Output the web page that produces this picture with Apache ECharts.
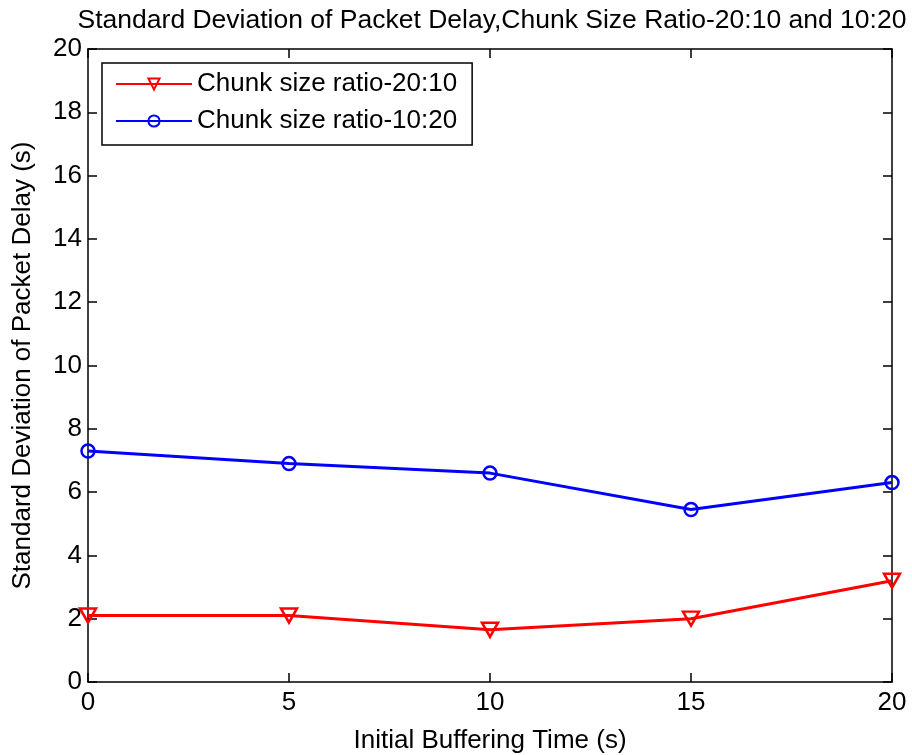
<!DOCTYPE html>
<html><head><meta charset="utf-8">
<script src="https://cdn.jsdelivr.net/npm/echarts@6/dist/echarts.min.js"></script>
<style>html,body{margin:0;padding:0;background:#fff}#c{width:912px;height:755px}</style>
</head><body><div id="c"></div>
<script>
const categories = [0, 5, 10, 15, 20];
const ratio2010 = [2.1, 2.1, 1.65, 2.0, 3.2];
const ratio1020 = [7.3, 6.9, 6.6, 5.45, 6.3];
const seriesNames = ['Chunk size ratio-20:10', 'Chunk size ratio-10:20'];
const xTicks = [0, 5, 10, 15, 20];
const yTicks = [0, 2, 4, 6, 8, 10, 12, 14, 16, 18, 20];

const FONT = '"Liberation Sans", Arial, sans-serif';
const tri = 'path://M0,0 L12,0 L6,10 Z';
const chart = echarts.init(document.getElementById('c'), null, {renderer: 'canvas'});
const axisCommon = {
  axisLine: {show: true, onZero: false, lineStyle: {color: '#000', width: 1.5}},
  axisTick: {show: true, inside: true, length: 9, lineStyle: {color: '#000', width: 1.5}},
  splitLine: {show: false}
};
chart.setOption({
  animation: false,
  backgroundColor: '#fff',
  title: {
    text: 'Standard Deviation of Packet Delay,Chunk Size Ratio-20:10 and 10:20',
    left: 487, textAlign: 'center', top: 2,
    textStyle: {fontFamily: FONT, fontSize: 26.5, fontWeight: 'normal', color: '#000'}
  },
  legend: {
    left: 102, top: 63, orient: 'vertical',
    backgroundColor: '#fff', borderColor: '#000', borderWidth: 1.5,
    padding: [6, 15, 9, 13], itemGap: 7, itemWidth: 76, itemHeight: 14,
    textStyle: {fontFamily: FONT, fontSize: 26, color: '#000', lineHeight: 30},
    data: seriesNames
  },
  grid: {left: 88, right: 20, top: 49, bottom: 73, containLabel: false, outerBoundsMode: 'none'},
  xAxis: [
    Object.assign({}, axisCommon, {
      type: 'value', min: 0, max: 20, interval: 5, position: 'bottom',
      name: 'Initial Buffering Time (s)', nameLocation: 'middle', nameGap: 46,
      nameTextStyle: {fontFamily: FONT, fontSize: 26, color: '#000'},
      axisLabel: {fontFamily: FONT, fontSize: 26, color: '#000', margin: 8,
        formatter: v => xTicks.includes(v) ? String(v) : ''}
    }),
    Object.assign({}, axisCommon, {
      type: 'value', min: 0, max: 20, interval: 5, position: 'top', axisLabel: {show: false}
    })
  ],
  yAxis: [
    Object.assign({}, axisCommon, {
      type: 'value', min: 0, max: 20, interval: 2, position: 'left',
      name: 'Standard Deviation of Packet Delay (s)', nameLocation: 'middle', nameGap: 52,
      nameTextStyle: {fontFamily: FONT, fontSize: 26, color: '#000'},
      axisLabel: {fontFamily: FONT, fontSize: 26, color: '#000', margin: 6,
        formatter: v => yTicks.includes(v) ? String(v) : ''}
    }),
    Object.assign({}, axisCommon, {
      type: 'value', min: 0, max: 20, interval: 2, position: 'right', axisLabel: {show: false}
    })
  ],
  series: [
    {
      name: seriesNames[0], type: 'line', xAxisIndex: 0, yAxisIndex: 0,
      data: categories.map((x, i) => [x, ratio2010[i]]),
      symbol: tri, symbolSize: [16, 14], symbolKeepAspect: false,
      lineStyle: {color: '#ff0000', width: 3},
      itemStyle: {color: 'rgba(255,255,255,0)', borderColor: '#ff0000', borderWidth: 2.5},
      z: 3
    },
    {
      name: seriesNames[1], type: 'line', xAxisIndex: 0, yAxisIndex: 0,
      data: categories.map((x, i) => [x, ratio1020[i]]),
      symbol: 'circle', symbolSize: 13,
      lineStyle: {color: '#0000ff', width: 3},
      itemStyle: {color: 'rgba(255,255,255,0)', borderColor: '#0000ff', borderWidth: 2.5},
      z: 3
    }
  ]
});
</script></body></html>
